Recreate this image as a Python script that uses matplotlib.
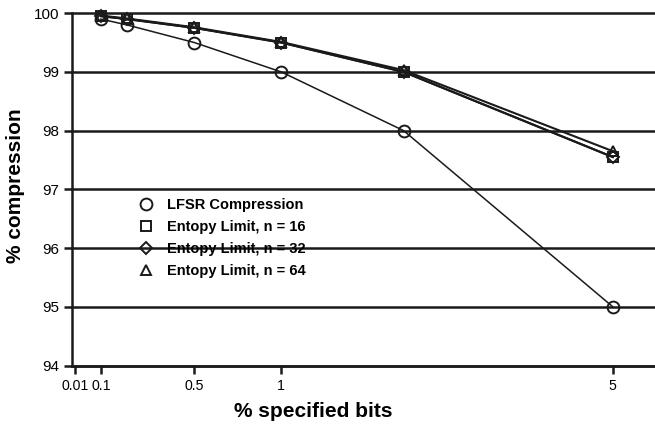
import numpy as np
import matplotlib
matplotlib.use('Agg')
import matplotlib.pyplot as plt
from matplotlib.lines import Line2D

plt.rcParams['font.family'] = ['Liberation Sans', 'DejaVu Sans']

# % specified bits
bits = [0.1, 0.2, 0.5, 1, 2, 5]
lfsr = [99.9, 99.8, 99.5, 99.0, 98.0, 95.0]
ent16 = [99.95, 99.9, 99.75, 99.5, 99.0, 97.55]
ent32 = [99.95, 99.9, 99.75, 99.5, 99.0, 97.55]
ent64 = [99.96, 99.91, 99.76, 99.51, 99.03, 97.65]

xticks = [0.01, 0.1, 0.5, 1, 5]
xticklabels = ['0.01', '0.1', '0.5', '1', '5']
yticks = [94, 95, 96, 97, 98, 99, 100]

ink = '#1a1a1a'

fig = plt.figure(figsize=(6.55, 4.26), dpi=100)
ax = fig.add_axes([0.11, 0.142, 0.89, 0.827])

# x axis is stretched like log(1 + x)
ax.set_xscale('function', functions=(np.log1p, np.expm1))

for y in yticks:
    ax.axhline(y, color=ink, lw=1.8, zorder=1, clip_on=False)

ax.plot(bits, lfsr, color=ink, lw=1.1, marker='o', ms=8.5,
        mfc='none', mew=1.4, clip_on=False, zorder=3)
ax.plot(bits, ent16, color=ink, lw=1.5, marker='s', ms=7,
        mfc='none', mew=1.4, clip_on=False, zorder=3)
ax.plot(bits, ent32, color=ink, lw=1.5, marker='D', ms=6.5,
        mfc='none', mew=1.4, clip_on=False, zorder=3)
ax.plot(bits, ent64, color=ink, lw=1.5, marker='^', ms=7.5,
        mfc='none', mew=1.4, clip_on=False, zorder=3)

ax.set_xlim(0, 5.9)
ax.set_ylim(94, 100)
ax.set_xticks(xticks)
ax.set_xticklabels(xticklabels)
ax.set_yticks(yticks)
ax.minorticks_off()
ax.tick_params(width=1.8, color=ink)
ax.tick_params(axis='x', length=5.5, pad=4, labelsize=10.2)
ax.tick_params(axis='y', length=6, pad=3, labelsize=11)

for s in ['top', 'right']:
    ax.spines[s].set_visible(False)
for s in ['left', 'bottom']:
    ax.spines[s].set_linewidth(1.8)
    ax.spines[s].set_color(ink)

ax.set_xlabel('% specified bits', fontsize=15, fontweight='bold')
ax.set_ylabel('% compression', fontsize=15, fontweight='bold')
ax.xaxis.set_label_coords(0.414, -0.104)
ax.yaxis.set_label_coords(-0.081, 0.511)

handles = [
    Line2D([], [], ls='none', marker='o', ms=8.5, mfc='none', mec=ink, mew=1.4),
    Line2D([], [], ls='none', marker='s', ms=7, mfc='none', mec=ink, mew=1.4),
    Line2D([], [], ls='none', marker='D', ms=6.5, mfc='none', mec=ink, mew=1.4),
    Line2D([], [], ls='none', marker='^', ms=7.5, mfc='none', mec=ink, mew=1.4),
]
labels = ['LFSR Compression', 'Entopy Limit, n = 16',
          'Entopy Limit, n = 32', 'Entopy Limit, n = 64']
ax.legend(handles, labels, loc='upper left', bbox_to_anchor=(0.115, 0.475),
          frameon=False, handlelength=1, handletextpad=0.9,
          borderpad=0, borderaxespad=0, labelspacing=0.55,
          prop={'size': 10.5, 'weight': 'bold'})

plt.savefig('out.png', dpi=100)
